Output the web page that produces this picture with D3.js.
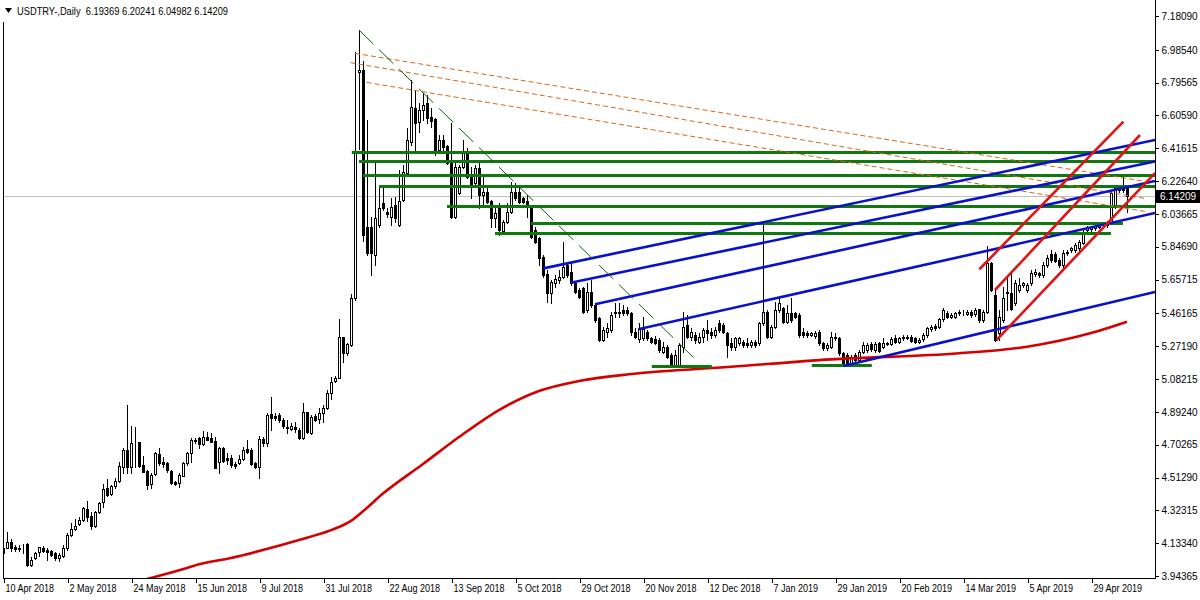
<!DOCTYPE html>
<html><head><meta charset="utf-8">
<script src="https://cdn.jsdelivr.net/npm/d3@7"></script>
<style>body{margin:0;background:#fff;} svg{display:block;font-family:"Liberation Sans",Arial,sans-serif;}</style>
</head><body>
<svg id="c" width="1200" height="600"></svg>
<script>
// ---- DATA (USDTRY daily, bar index 0 = 10 Apr 2018) ----
const title = "USDTRY-,Daily  6.19369 6.20241 6.04982 6.14209";
const opens = [
4.074,4.107,4.138,4.111,4.103,4.101,4.129,4.005,4.046,4.080,
4.107,4.092,4.088,4.076,4.049,4.061,4.103,4.180,4.213,4.246,
4.265,4.329,4.290,4.231,4.311,4.369,4.450,4.415,4.462,4.495,
4.576,4.672,4.576,4.712,4.716,4.585,4.550,4.473,4.531,4.647,
4.604,4.597,4.550,4.489,4.483,4.524,4.595,4.653,4.728,4.743,
4.705,4.747,4.743,4.724,4.601,4.681,4.628,4.624,4.589,4.595,
4.620,4.676,4.672,4.595,4.575,4.735,4.710,4.878,4.866,4.874,
4.845,4.807,4.793,4.807,4.787,4.739,4.889,4.768,4.870,4.851,
4.884,4.912,5.003,5.071,5.090,5.323,5.231,5.279,5.548,6.855,
6.868,5.963,5.963,5.799,5.972,6.098,6.050,6.021,6.088,5.972,
6.117,6.271,6.454,6.647,6.570,6.637,6.676,6.599,6.584,6.406,
6.464,6.429,6.339,6.021,6.159,6.310,6.396,6.261,6.213,6.300,
6.146,6.165,6.111,6.011,6.088,5.940,5.992,6.050,6.165,6.165,
6.127,6.111,6.078,5.944,5.895,5.789,5.689,5.578,5.635,5.654,
5.674,5.741,5.703,5.635,5.597,5.606,5.481,5.587,5.510,5.433,
5.308,5.356,5.365,5.462,5.471,5.481,5.481,5.462,5.356,5.311,
5.317,5.356,5.317,5.312,5.308,5.240,5.269,5.221,5.163,5.163,
5.269,5.394,5.327,5.337,5.298,5.327,5.366,5.356,5.337,5.408,
5.394,5.350,5.288,5.269,5.288,5.298,5.293,5.279,5.298,5.288,
5.404,5.472,5.327,5.385,5.481,5.491,5.414,5.466,5.462,5.452,
5.356,5.350,5.337,5.331,5.356,5.288,5.260,5.269,5.327,5.317,
5.234,5.221,5.173,5.221,5.192,5.240,5.250,5.284,5.250,5.288,
5.269,5.284,5.284,5.317,5.298,5.317,5.322,5.327,5.317,5.298,
5.312,5.337,5.370,5.389,5.385,5.427,5.466,5.443,5.443,5.462,
5.466,5.460,5.470,5.458,5.485,5.423,5.471,5.755,5.568,5.350,
5.423,5.587,5.581,5.520,5.597,5.626,5.597,5.635,5.689,5.693,
5.683,5.741,5.805,5.805,5.770,5.741,5.809,5.828,5.828,5.837,
5.870,5.944,5.950,5.953,5.963,5.972,5.972,5.992,6.088,6.175,
6.190,6.19369];
const highs = [
4.142,4.198,4.157,4.123,4.123,4.127,4.135,4.055,4.084,4.113,
4.119,4.103,4.092,4.084,4.074,4.123,4.190,4.248,4.273,4.287,
4.344,4.377,4.315,4.319,4.373,4.477,4.504,4.470,4.508,4.601,
4.681,4.932,4.811,4.807,4.720,4.639,4.556,4.537,4.662,4.685,
4.633,4.601,4.556,4.493,4.537,4.601,4.662,4.739,4.739,4.749,
4.782,4.778,4.768,4.749,4.691,4.691,4.652,4.643,4.604,4.643,
4.691,4.730,4.681,4.604,4.755,4.749,4.884,4.980,4.884,4.884,
4.855,4.845,4.826,4.836,4.797,4.941,4.893,4.874,4.878,4.912,
4.932,5.018,5.096,5.101,5.429,5.327,5.288,5.572,6.974,7.100,
6.920,6.579,6.020,6.339,6.204,6.204,6.070,6.127,6.136,6.290,
6.319,6.531,6.811,6.753,6.676,6.734,6.724,6.647,6.589,6.493,
6.493,6.435,6.560,6.348,6.320,6.464,6.416,6.310,6.319,6.329,
6.252,6.184,6.117,6.079,6.098,6.001,6.098,6.223,6.213,6.194,
6.136,6.146,6.088,5.963,5.905,5.799,5.712,5.655,5.683,5.712,
5.876,5.760,5.751,5.645,5.606,5.616,5.635,5.655,5.520,5.443,
5.385,5.404,5.471,5.520,5.520,5.510,5.500,5.471,5.375,5.404,
5.443,5.366,5.327,5.330,5.317,5.298,5.279,5.231,5.250,5.288,
5.472,5.450,5.375,5.356,5.346,5.375,5.423,5.375,5.385,5.423,
5.404,5.356,5.317,5.327,5.327,5.308,5.317,5.310,5.308,5.414,
5.990,5.481,5.394,5.529,5.549,5.500,5.510,5.549,5.472,5.462,
5.375,5.360,5.356,5.360,5.366,5.298,5.290,5.356,5.346,5.327,
5.240,5.231,5.220,5.231,5.250,5.298,5.288,5.298,5.298,5.298,
5.317,5.298,5.327,5.337,5.327,5.337,5.337,5.337,5.327,5.318,
5.347,5.385,5.395,5.399,5.437,5.491,5.476,5.462,5.472,5.482,
5.480,5.481,5.480,5.491,5.490,5.480,5.851,5.760,5.600,5.480,
5.616,5.674,5.703,5.654,5.664,5.645,5.636,5.710,5.720,5.703,
5.760,5.800,5.830,5.815,5.780,5.830,5.827,5.847,5.867,5.886,
5.944,5.969,5.969,5.977,5.983,5.992,5.996,6.170,6.200,6.197,
6.252,6.20241];
const lows = [
4.055,4.103,4.088,4.088,4.088,4.074,4.003,4.003,4.042,4.061,
4.084,4.034,4.061,4.036,4.030,4.055,4.094,4.177,4.211,4.238,
4.261,4.261,4.215,4.227,4.308,4.344,4.408,4.412,4.450,4.489,
4.541,4.541,4.541,4.576,4.576,4.543,4.447,4.454,4.527,4.585,
4.574,4.543,4.474,4.470,4.460,4.520,4.585,4.604,4.710,4.681,
4.701,4.728,4.716,4.566,4.537,4.601,4.593,4.576,4.570,4.589,
4.614,4.656,4.585,4.570,4.512,4.696,4.696,4.787,4.845,4.836,
4.797,4.768,4.787,4.774,4.735,4.735,4.768,4.762,4.839,4.826,
4.832,4.909,4.967,5.063,5.086,5.183,5.221,5.275,5.539,6.410,
5.880,5.800,5.684,5.741,5.960,6.059,6.020,5.972,5.992,5.968,
6.111,6.261,6.435,6.387,6.512,6.579,6.560,6.541,6.377,6.396,
6.406,6.325,6.011,6.011,6.150,6.300,6.242,6.127,6.204,6.069,
6.079,6.098,5.963,5.963,5.915,5.924,5.982,6.040,6.117,6.098,
6.098,6.021,5.895,5.866,5.741,5.674,5.529,5.520,5.616,5.635,
5.664,5.674,5.626,5.577,5.549,5.462,5.471,5.500,5.414,5.304,
5.304,5.327,5.356,5.443,5.443,5.452,5.452,5.337,5.317,5.298,
5.308,5.308,5.288,5.285,5.240,5.231,5.202,5.150,5.150,5.154,
5.240,5.317,5.308,5.288,5.288,5.298,5.308,5.317,5.327,5.356,
5.346,5.211,5.250,5.250,5.279,5.269,5.269,5.270,5.269,5.279,
5.394,5.317,5.317,5.375,5.472,5.404,5.404,5.414,5.433,5.327,
5.327,5.327,5.330,5.321,5.279,5.250,5.250,5.260,5.307,5.221,
5.163,5.158,5.160,5.163,5.183,5.231,5.240,5.245,5.240,5.240,
5.260,5.278,5.279,5.288,5.288,5.307,5.312,5.294,5.288,5.288,
5.302,5.327,5.360,5.365,5.375,5.417,5.433,5.433,5.433,5.452,
5.450,5.450,5.442,5.448,5.410,5.410,5.462,5.590,5.300,5.310,
5.414,5.481,5.481,5.510,5.587,5.616,5.587,5.625,5.680,5.673,
5.670,5.731,5.760,5.756,5.730,5.731,5.799,5.818,5.818,5.827,
5.860,5.934,5.940,5.943,5.953,5.962,5.962,5.980,6.070,6.165,
6.165,6.04982];
const closes = [
4.107,4.138,4.107,4.098,4.099,4.100,4.007,4.036,4.074,4.109,
4.088,4.080,4.065,4.046,4.065,4.103,4.180,4.215,4.234,4.269,
4.337,4.287,4.234,4.311,4.366,4.445,4.412,4.462,4.493,4.579,
4.672,4.576,4.710,4.710,4.581,4.547,4.470,4.527,4.655,4.595,
4.593,4.554,4.481,4.474,4.527,4.595,4.653,4.730,4.724,4.705,
4.749,4.732,4.720,4.570,4.685,4.608,4.616,4.585,4.581,4.620,
4.672,4.662,4.589,4.575,4.735,4.710,4.874,4.858,4.855,4.845,
4.812,4.801,4.810,4.793,4.739,4.889,4.774,4.864,4.845,4.884,
4.912,4.999,5.067,5.086,5.327,5.231,5.284,5.552,6.396,6.868,
5.915,5.809,5.809,6.015,6.069,6.069,6.034,6.079,6.011,6.111,
6.281,6.464,6.657,6.560,6.637,6.666,6.589,6.576,6.406,6.464,
6.421,6.329,6.021,6.310,6.310,6.387,6.252,6.204,6.300,6.146,
6.165,6.107,6.011,6.044,5.944,5.992,6.050,6.165,6.127,6.107,
6.107,6.078,5.905,5.876,5.780,5.683,5.578,5.645,5.658,5.674,
5.732,5.683,5.635,5.587,5.558,5.471,5.587,5.510,5.423,5.308,
5.365,5.375,5.452,5.471,5.462,5.462,5.462,5.356,5.327,5.369,
5.369,5.317,5.298,5.293,5.250,5.269,5.211,5.163,5.221,5.279,
5.385,5.327,5.356,5.308,5.327,5.366,5.346,5.337,5.366,5.366,
5.356,5.279,5.269,5.317,5.317,5.279,5.279,5.298,5.279,5.404,
5.472,5.327,5.385,5.481,5.520,5.414,5.462,5.423,5.443,5.337,
5.337,5.337,5.346,5.350,5.288,5.260,5.279,5.327,5.317,5.231,
5.173,5.173,5.207,5.192,5.240,5.279,5.279,5.254,5.284,5.245,
5.293,5.288,5.312,5.298,5.317,5.327,5.327,5.304,5.298,5.308,
5.337,5.375,5.385,5.375,5.427,5.481,5.443,5.452,5.462,5.472,
5.462,5.471,5.452,5.481,5.423,5.471,5.751,5.597,5.308,5.440,
5.549,5.577,5.485,5.635,5.626,5.635,5.626,5.693,5.703,5.683,
5.741,5.780,5.770,5.766,5.741,5.809,5.817,5.837,5.857,5.876,
5.934,5.959,5.959,5.967,5.973,5.982,5.986,6.156,6.185,6.187,
6.175,6.14209];
const lastPrice = 6.14209;

// moving average (read at sample bars): bar index, value
const maBars   = [36, 46, 49, 57, 64, 74, 82, 87, 90, 95, 105, 114, 124, 134, 144, 157, 182, 207, 239, 256, 272, 281];
const maValues = [3.926,3.990,4.011,4.048,4.088,4.152,4.209,4.262,4.318,4.420,4.591,4.747,4.903,5.013,5.071,5.111,5.153,5.196,5.231,5.269,5.348,5.414];

// price axis tick labels
const priceTicks = [7.18090,6.98540,6.79565,6.60590,6.41615,6.22640,6.03665,5.84690,5.65715,5.46165,5.27190,5.08215,4.89240,4.70265,4.51290,4.32315,4.13340,3.94365];
// date axis labels (one every 16 bars)
const dateLabels = ["10 Apr 2018","2 May 2018","24 May 2018","15 Jun 2018","9 Jul 2018","31 Jul 2018","22 Aug 2018","13 Sep 2018","5 Oct 2018","29 Oct 2018","20 Nov 2018","12 Dec 2018","7 Jan 2019","29 Jan 2019","20 Feb 2019","14 Mar 2019","5 Apr 2019","29 Apr 2019"];
const dateLabelBars = [0,16,32,48,64,80,96,112,128,144,160,176,192,208,224,240,256,272];

// drawn objects
const greenLevels = [[87.2,6.395,288],[89,6.343,288],[90,6.262,288],[94,6.198,288],[111,6.083,288],[132,5.985,280],[123,5.928,277],[162.2,5.157,177.2],[202.2,5.163,217.2]]; // [startBar, price, endBar]
const orangeRays = [[88,6.965,285.5,6.225],[86.9,6.911,285.5,6.126],[90.9,6.797,285.5,6.051]]; // [bar1, price1, bar2, price2]
const blueLines = [[135.1,5.722,288,6.464],[141.9,5.639,288,6.340],[148,5.514,288,6.227],[158.8,5.370,288,6.042],[210.1,5.158,288,5.586]];
const redLines = [[244.1,5.717,280.1,6.570],[248,5.597,284.25,6.493],[248.4,5.308,288,6.273]];
const greenDashed = [[89,7.100,173.75,5.181]];

// ---- CHART ----
const svg = d3.select('#c');
const L = 3, R = 1155, B = 578;
const x = d3.scaleLinear().domain([0, 288]).range([3, 1155]);
const y = d3.scaleLinear().domain([3.94365, 7.18090]).range([576, 16]);

svg.append('defs').append('clipPath').attr('id','clip')
  .append('rect').attr('x',L).attr('y',0).attr('width',R-L).attr('height',B);

const plot = svg.append('g').attr('clip-path','url(#clip)');

// current price grey line
plot.append('line').attr('x1',L).attr('x2',R)
  .attr('y1',Math.round(y(lastPrice))+0.5).attr('y2',Math.round(y(lastPrice))+0.5)
  .attr('stroke','#c0c0c0').attr('stroke-width',1).attr('shape-rendering','crispEdges');

const bars = d3.range(opens.length).map(i => ({i, o:opens[i], h:highs[i], l:lows[i], c:closes[i]}));
const cg = plot.append('g').attr('shape-rendering','crispEdges');
cg.selectAll('line.w').data(bars).join('line').attr('class','w')
  .attr('x1', d => Math.round(x(d.i)) + 0.5).attr('x2', d => Math.round(x(d.i)) + 0.5)
  .attr('y1', d => Math.round(y(d.h))).attr('y2', d => Math.round(y(d.l)) + 1)
  .attr('stroke','#000').attr('stroke-width',1);
cg.selectAll('rect.b').data(bars).join('rect').attr('class','b')
  .attr('x', d => Math.round(x(d.i)) - 0.5)
  .attr('y', d => Math.round(y(Math.max(d.o,d.c))) + 0.5)
  .attr('width', 2)
  .attr('height', d => Math.max(0, Math.round(y(Math.min(d.o,d.c))) - Math.round(y(Math.max(d.o,d.c)))))
  .attr('fill', d => d.c >= d.o ? '#fff' : '#000')
  .attr('stroke','#000').attr('stroke-width',1);

// moving average
const ma = maBars.map((b,k) => [b, maValues[k]]);
plot.append('path').datum(ma)
  .attr('d', d3.line().x(d => x(d[0])).y(d => y(d[1])).curve(d3.curveMonotoneX))
  .attr('fill','none').attr('stroke','#d40000').attr('stroke-width',2.6);

// green horizontal levels
plot.selectAll('line.gl').data(greenLevels).join('line').attr('class','gl')
  .attr('x1', d => x(d[0])).attr('x2', d => x(d[2]))
  .attr('y1', d => Math.round(y(d[1])) + 0.5).attr('y2', d => Math.round(y(d[1])) + 0.5)
  .attr('stroke','#11780f').attr('stroke-width',3);

// orange dashed rays
plot.selectAll('line.or').data(orangeRays).join('line').attr('class','or')
  .attr('x1', d => x(d[0])).attr('y1', d => y(d[1])).attr('x2', d => x(d[2])).attr('y2', d => y(d[3]))
  .attr('stroke','#d2691e').attr('stroke-width',1).attr('stroke-dasharray','5 3');

// blue lines
plot.selectAll('line.bl').data(blueLines).join('line').attr('class','bl')
  .attr('x1', d => x(d[0])).attr('y1', d => y(d[1])).attr('x2', d => x(d[2])).attr('y2', d => y(d[3]))
  .attr('stroke','#0a12c8').attr('stroke-width',2.6);

// red lines
plot.selectAll('line.rl').data(redLines).join('line').attr('class','rl')
  .attr('x1', d => x(d[0])).attr('y1', d => y(d[1])).attr('x2', d => x(d[2])).attr('y2', d => y(d[3]))
  .attr('stroke','#e01414').attr('stroke-width',2.6);

// green dashed trendline
plot.selectAll('line.gd').data(greenDashed).join('line').attr('class','gd')
  .attr('x1', d => x(d[0])).attr('y1', d => y(d[1])).attr('x2', d => x(d[2])).attr('y2', d => y(d[3]))
  .attr('stroke','#0b5e0b').attr('stroke-width',1).attr('stroke-dasharray','20 8');

// frame
svg.append('path').attr('d',`M${L+0.5},22V${B+0.5}H${R+0.5}V0`)
  .attr('fill','none').attr('stroke','#000').attr('stroke-width',1).attr('shape-rendering','crispEdges');

// price axis
const ya = svg.append('g').attr('transform',`translate(${R+0.5},0)`)
  .call(d3.axisRight(y).tickValues(priceTicks).tickSize(3).tickPadding(3).tickFormat(d3.format('.5f')));
ya.select('.domain').remove();
ya.selectAll('text').attr('font-size',10).attr('font-family','"Liberation Sans",Arial,sans-serif').attr('fill','#000');
ya.selectAll('line').attr('stroke','#000').attr('shape-rendering','crispEdges');

// current price tag
const ly = Math.round(y(lastPrice));
svg.append('rect').attr('x',R+1).attr('y',ly-6).attr('width',44).attr('height',13).attr('fill','#000');
svg.append('text').attr('x',R+5).attr('y',ly+4).attr('fill','#fff').attr('font-size',10).text(d3.format('.5f')(lastPrice));

// date axis
const xa = svg.append('g').attr('transform',`translate(0,${B+0.5})`)
  .call(d3.axisBottom(x).tickValues(dateLabelBars).tickSize(4).tickFormat((d,k) => dateLabels[k]));
xa.select('.domain').remove();
xa.selectAll('.tick line').attr('transform','translate(0.5,0)').attr('stroke','#000').attr('shape-rendering','crispEdges');
xa.selectAll('.tick text').attr('text-anchor','start').attr('x',2).attr('y',6).attr('dy','0.71em')
  .attr('font-size',10).attr('font-family','"Liberation Sans",Arial,sans-serif').attr('fill','#000')
  .each(function(){ const w=this.getComputedTextLength(); d3.select(this).attr('textLength',w*0.9).attr('lengthAdjust','spacingAndGlyphs'); });

// title
svg.append('path').attr('d','M5,8 L12,8 L8.5,13 Z').attr('fill','#000');
svg.append('text').attr('x',17).attr('y',15).attr('font-size',11).attr('fill','#000')
  .attr('xml:space','preserve').style('white-space','pre').text(title)
  .each(function(){ d3.select(this).attr('textLength',211).attr('lengthAdjust','spacingAndGlyphs'); });
</script>
</body></html>
